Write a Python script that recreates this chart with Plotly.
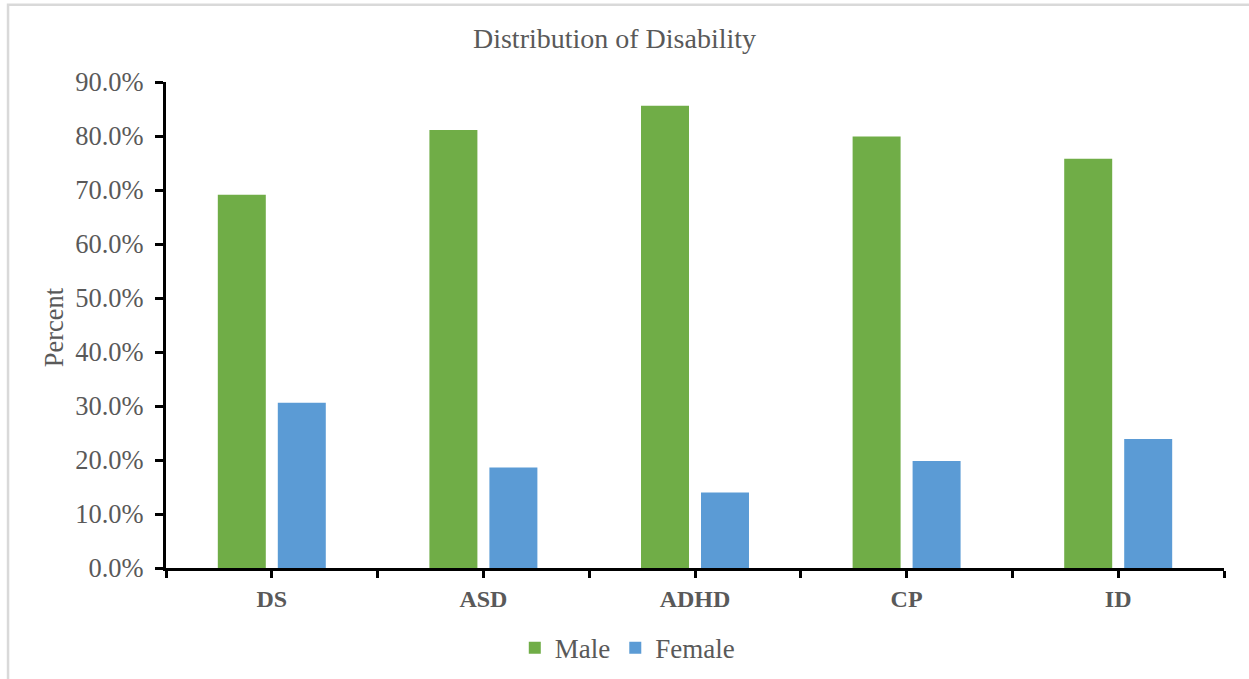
import plotly.graph_objects as go

# Share of each disability group by sex (percent)
categories = ["DS", "ASD", "ADHD", "CP", "ID"]
male_pct = [69.1, 81.1, 85.6, 79.9, 75.8]
female_pct = [30.6, 18.6, 14.0, 19.8, 23.9]
y_ticks = [0, 10, 20, 30, 40, 50, 60, 70, 80, 90]

GREEN = "#70AD47"
BLUE = "#5B9BD5"
TEXT = "#595959"
SERIF = "Liberation Serif, Times New Roman, serif"

# categories sit at half-unit centres so ticks can mark both centres and boundaries
x_pos = [i + 0.5 for i in range(len(categories))]
tick_vals = [i * 0.5 for i in range(2 * len(categories) + 1)]
tick_text = [categories[int(v)] if (v % 1) == 0.5 else "" for v in tick_vals]

fig = go.Figure()
fig.add_trace(go.Bar(name="Male", x=x_pos, y=male_pct, marker=dict(color=GREEN, line=dict(width=0))))
fig.add_trace(go.Bar(name="Female", x=x_pos, y=female_pct, marker=dict(color=BLUE, line=dict(width=0))))

fig.update_layout(
    width=1249,
    height=679,
    margin=dict(l=166, r=25, t=82, b=111, autoexpand=False),
    paper_bgcolor="white",
    plot_bgcolor="white",
    barmode="group",
    bargap=0.433,
    bargroupgap=0.2,
    font=dict(family=SERIF, color=TEXT),
    title=dict(
        text="Distribution of Disability",
        x=0.492, xref="container", xanchor="center",
        y=0.944, yref="container", yanchor="middle",
        font=dict(family=SERIF, size=28, color=TEXT),
    ),
    legend=dict(
        orientation="h",
        x=0.436, xanchor="center",
        y=-0.165, yanchor="middle",
        font=dict(family=SERIF, size=27, color=TEXT),
        itemwidth=30,
        tracegroupgap=0,
    ),
    showlegend=True,
)

fig.update_xaxes(
    range=[0, len(categories)],
    tickmode="array",
    tickvals=tick_vals,
    ticktext=tick_text,
    ticks="outside",
    ticklen=7,
    tickwidth=2.5,
    tickcolor="black",
    showline=True,
    linecolor="black",
    linewidth=3,
    showgrid=False,
    zeroline=False,
    tickfont=dict(family=SERIF, size=24, color=TEXT, weight="bold"),
    fixedrange=True,
)

fig.update_yaxes(
    range=[0, 90],
    tickmode="array",
    tickvals=y_ticks,
    ticktext=[f"{v:.1f}%" for v in y_ticks],
    ticks="outside",
    ticklen=8,
    tickwidth=2.5,
    tickcolor="black",
    showline=True,
    linecolor="black",
    linewidth=3,
    showgrid=False,
    zeroline=False,
    tickfont=dict(family=SERIF, size=26.5, color=TEXT),
    ticklabelstandoff=6,
    fixedrange=True,
)

# vertical axis title
fig.add_annotation(
    text="Percent",
    xref="paper", yref="paper",
    x=-0.105, y=0.495,
    xanchor="center", yanchor="middle",
    textangle=-90,
    showarrow=False,
    font=dict(family=SERIF, size=26.5, color=TEXT),
)

# light frame around the chart area
fig.add_shape(
    type="rect",
    xref="paper", yref="paper",
    x0=-0.1493, x1=1.2, y0=-0.4, y1=1.159,
    line=dict(color="#D9D9D9", width=2.5),
    fillcolor="rgba(0,0,0,0)",
    layer="below",
)

fig.write_html("out.html")
